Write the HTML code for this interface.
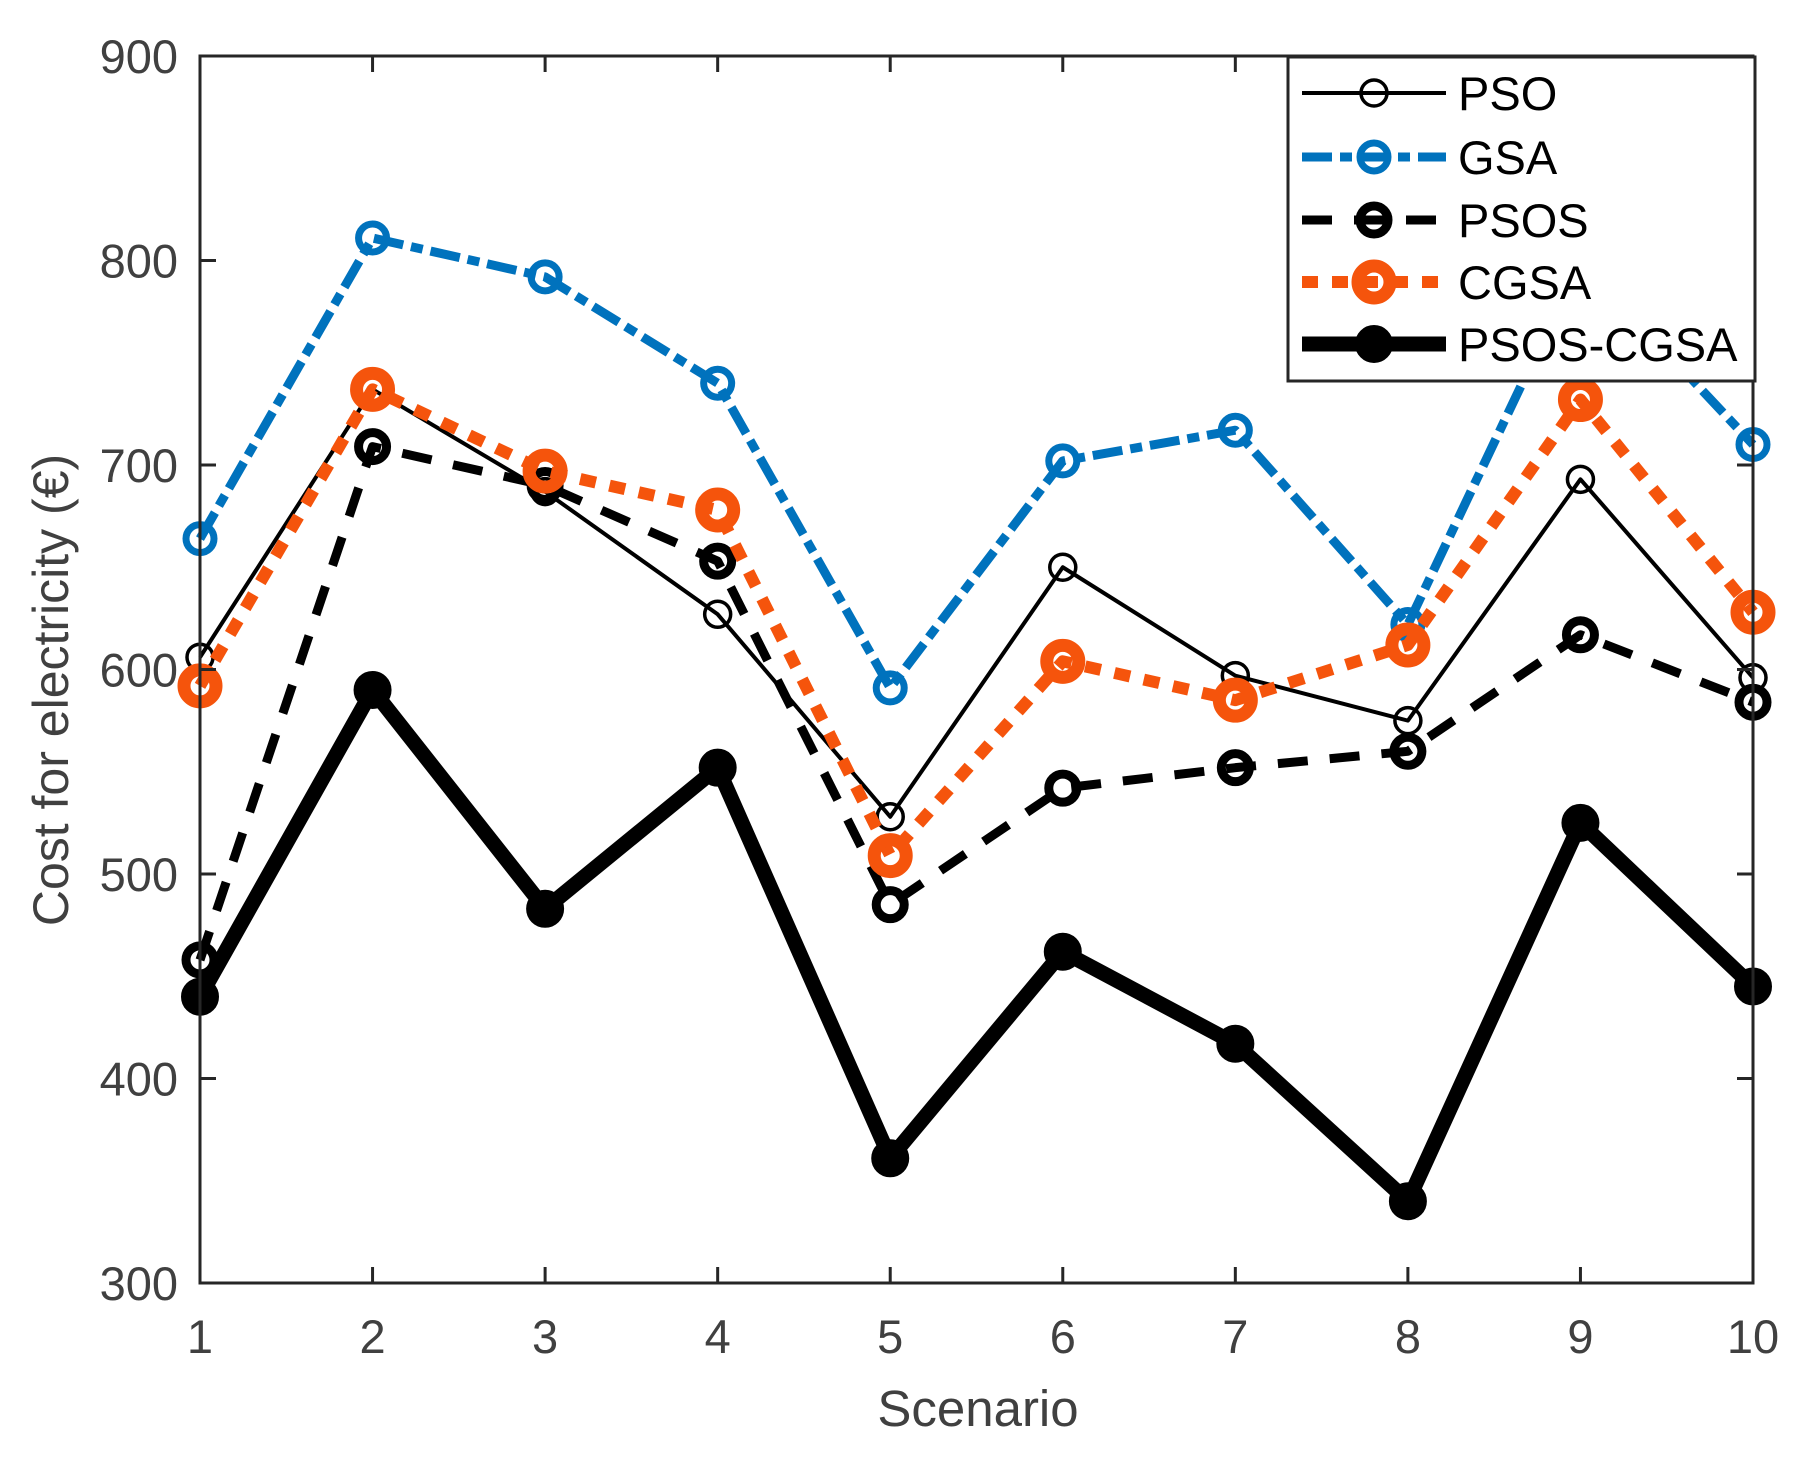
<!DOCTYPE html>
<html><head><meta charset="utf-8"><style>
html,body{margin:0;padding:0;background:#fff;}
svg{display:block;font-family:"Liberation Sans",Arial,sans-serif;}
</style></head><body>
<svg id="chart" width="1814" height="1468" viewBox="0 0 1814 1468" xmlns="http://www.w3.org/2000/svg">
<rect width="1814" height="1468" fill="#fff"/>
<g id="series"></g>
<g id="axes"></g>
<g id="legend"></g>
</svg>
<script>
const categories = [1,2,3,4,5,6,7,8,9,10];
const yTicks = [300,400,500,600,700,800,900];
const psoValues = [606,737,687,627,528,650,597,575,693,596];
const gsaValues = [664,811,792,740,591,702,717,622,800,710];
const psosValues = [458,709,690,653,485,542,552,560,617,584];
const cgsaValues = [592,737,697,678,509,604,585,612,732,628];
const psosCgsaValues = [440,590,483,552,361,462,417,340,525,445];
const seriesNames = ["PSO","GSA","PSOS","CGSA","PSOS-CGSA"];

const L=200,R=1753,T=56,B=1283;
const xS=v=>L+(v-1)/9*(R-L);
const yS=v=>B-(v-300)/600*(B-T);
const NS="http://www.w3.org/2000/svg";
function mk(tag,attrs,parent){const e=document.createElementNS(NS,tag);for(const k in attrs)e.setAttribute(k,attrs[k]);parent.appendChild(e);return e;}

const styles=[
 {data:psoValues,color:"#000",w:4,dash:"",r:13,mw:3.5,fill:"none",key:"pso"},
 {data:gsaValues,color:"#0072BD",w:9,dash:"30 8 12 8",r:14,mw:7,fill:"none",key:"gsa"},
 {data:psosValues,color:"#000",w:9,dash:"30 22",r:14,mw:9,fill:"none",key:"psos"},
 {data:cgsaValues,color:"#F5540C",w:12,dash:"16 14",r:16,mw:13,fill:"none",key:"cgsa"},
 {data:psosCgsaValues,color:"#000",w:15,dash:"",r:18,mw:2,fill:"#000",key:"psos-cgsa"}
];
const sg=document.getElementById("series");
styles.forEach(s=>{
  const g=mk("g",{},sg);
  
  
  const pts=s.data.map((v,i)=>xS(categories[i])+","+yS(v)).join(" ");
  const pl=mk("polyline",{points:pts,fill:"none",stroke:s.color,"stroke-width":s.w,"stroke-dasharray":s.dash,"stroke-linejoin":"round"},g);
  
  
  s.data.forEach((v,i)=>{
    const c=mk("circle",{cx:xS(categories[i]),cy:yS(v),r:s.r,fill:s.fill,stroke:s.color,"stroke-width":s.mw},g);
    
    
  });
});

const ax=document.getElementById("axes");
const frame=mk("rect",{x:L,y:T,width:R-L,height:B-T,fill:"none",stroke:"#262626","stroke-width":3},ax);


yTicks.forEach(t=>{
  const y=yS(t);
  mk("line",{x1:L,x2:L+16,y1:y,y2:y,stroke:"#262626","stroke-width":3},ax);
  mk("line",{x1:R,x2:R-16,y1:y,y2:y,stroke:"#262626","stroke-width":3},ax);
  const tx=mk("text",{x:178,y:y+17,"text-anchor":"end","font-size":47,fill:"#404040"},ax);
  tx.textContent=t;
  
  
});
categories.forEach(c=>{
  const x=xS(c);
  mk("line",{x1:x,x2:x,y1:B,y2:B-16,stroke:"#262626","stroke-width":3},ax);
  mk("line",{x1:x,x2:x,y1:T,y2:T+16,stroke:"#262626","stroke-width":3},ax);
  const tx=mk("text",{x:x,y:1353,"text-anchor":"middle","font-size":47,fill:"#404040"},ax);
  tx.textContent=c;
  
  
});
const xl=mk("text",{x:978,y:1426,"text-anchor":"middle","font-size":51,fill:"#404040"},ax);
xl.textContent="Scenario";


const yl=mk("text",{x:0,y:0,"text-anchor":"middle","font-size":50,fill:"#404040",transform:"translate(68,690) rotate(-90)"},ax);
yl.textContent="Cost for electricity (€)";



const lg=document.getElementById("legend");


mk("rect",{x:1288,y:57,width:467,height:324,fill:"#fff",stroke:"#262626","stroke-width":3},lg);
const rows=[93,157,220,282,344];
styles.forEach((s,i)=>{
  const y=rows[i];
  const g=mk("g",{},lg);
  
  
  mk("line",{x1:1302,x2:1446,y1:y,y2:y,stroke:s.color,"stroke-width":s.w,"stroke-dasharray":s.dash},g);
  mk("circle",{cx:1374,cy:y,r:s.r,fill:s.fill,stroke:s.color,"stroke-width":s.mw},g);
  const t=mk("text",{x:1458,y:y+17,"font-size":47,fill:"#000"},g);
  t.textContent=seriesNames[i];
});
</script>
</body></html>
